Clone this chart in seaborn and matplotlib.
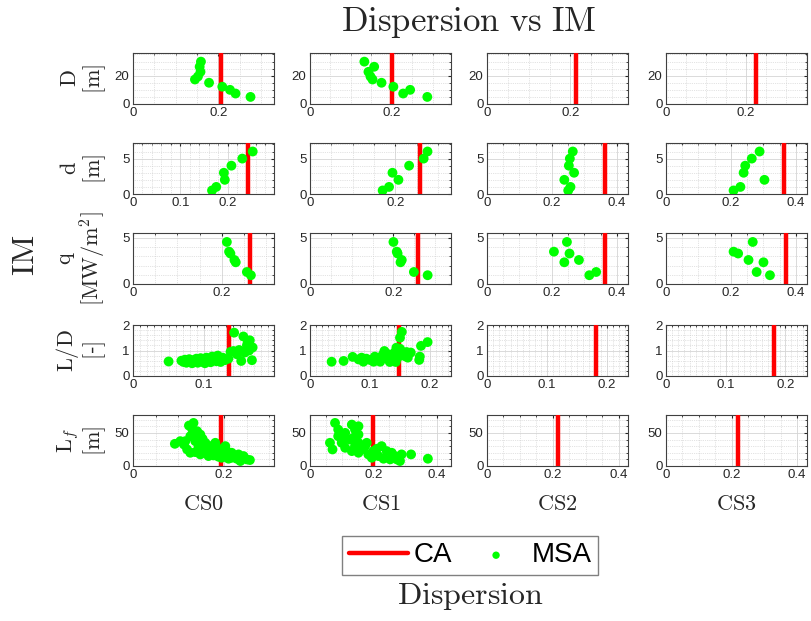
import numpy as np
import pandas as pd
import seaborn as sns
import matplotlib.pyplot as plt
from matplotlib.ticker import MultipleLocator, FuncFormatter

# ---- data ----
cases = ['CS0', 'CS1', 'CS2', 'CS3']

# CA dispersion (red lines), one per row / case
ca_D = [0.205, 0.200, 0.213, 0.225]
ca_d = [0.243, 0.257, 0.362, 0.362]
ca_q = [0.263, 0.258, 0.362, 0.368]
ca_LD = [0.135, 0.148, 0.182, 0.181]
ca_Lf = [0.193, 0.200, 0.214, 0.220]

# D [m]
D_vals = [29.9, 26.3, 22.7, 19.4, 17.3, 15.0, 12.2, 10.0, 7.4, 5.0]
D_cs0 = [0.159, 0.156, 0.158, 0.152, 0.145, 0.178, 0.209, 0.227, 0.240, 0.275]
D_cs1 = [0.133, 0.157, 0.143, 0.148, 0.153, 0.175, 0.204, 0.245, 0.228, 0.287]

# d [m]
d_vals = [6, 5, 4, 3, 2, 1, 0.5]
d_cs0 = [0.253, 0.231, 0.208, 0.192, 0.194, 0.176, 0.167]
d_cs1 = [0.275, 0.266, 0.232, 0.193, 0.207, 0.185, 0.170]
d_cs2 = [0.264, 0.255, 0.252, 0.268, 0.238, 0.257, 0.250]
d_cs3 = [0.288, 0.264, 0.244, 0.239, 0.303, 0.229, 0.208]

# q [MW/m2]
q_vals = [4.55, 3.5, 3.3, 2.6, 2.35, 1.3, 0.95]
q_cs0 = [0.211, 0.216, 0.219, 0.228, 0.231, 0.256, 0.265]
q_cs1 = [0.200, 0.208, 0.210, 0.220, 0.217, 0.249, 0.282]
q_cs2 = [0.246, 0.206, 0.254, 0.283, 0.238, 0.336, 0.315]
q_cs3 = [0.267, 0.208, 0.222, 0.254, 0.300, 0.279, 0.320]

# L/D [-]
LD_cs0_x = [0.050, 0.068, 0.071, 0.073, 0.075, 0.077, 0.079, 0.081, 0.083, 0.085,
            0.087, 0.089, 0.091, 0.093, 0.095, 0.097, 0.099, 0.101, 0.103, 0.105,
            0.107, 0.109, 0.111, 0.113, 0.115, 0.117, 0.119, 0.121, 0.123, 0.126,
            0.129, 0.134, 0.137, 0.141, 0.142, 0.146, 0.149, 0.152, 0.155, 0.157,
            0.160, 0.161, 0.164, 0.167, 0.168, 0.163]
LD_cs0_y = [0.57, 0.60, 0.55, 0.64, 0.52, 0.60, 0.66, 0.55, 0.50, 0.62,
            0.57, 0.68, 0.52, 0.62, 0.70, 0.56, 0.64, 0.50, 0.72, 0.60,
            0.66, 0.54, 0.76, 0.62, 0.70, 0.58, 0.80, 0.66, 0.55, 0.72,
            0.62, 0.68, 0.95, 0.98, 1.70, 0.85, 1.02, 0.59, 1.55, 0.92,
            1.20, 1.30, 1.40, 0.62, 1.12, 1.00]
LD_cs1_x = [0.036, 0.056, 0.071, 0.081, 0.086, 0.089, 0.094, 0.100, 0.106, 0.108,
            0.114, 0.117, 0.119, 0.122, 0.124, 0.128, 0.131, 0.133, 0.136, 0.141,
            0.143, 0.144, 0.146, 0.150, 0.150, 0.153, 0.156, 0.158, 0.161, 0.163,
            0.168, 0.182, 0.183, 0.185, 0.196]
LD_cs1_y = [0.56, 0.59, 0.75, 0.65, 0.72, 0.56, 0.68, 0.63, 0.56, 0.76,
            0.65, 0.56, 0.76, 0.85, 0.98, 0.68, 0.85, 0.55, 0.63, 0.92,
            0.55, 1.11, 0.72, 1.50, 1.07, 1.73, 0.92, 0.78, 0.94, 0.72,
            0.92, 0.63, 0.76, 1.18, 1.33]

# Lf [m]
Lf_cs0_x = [0.133, 0.123, 0.130, 0.141, 0.148, 0.153, 0.159, 0.170, 0.181, 0.185,
            0.203, 0.206, 0.217, 0.232, 0.243, 0.250, 0.257, 0.236, 0.228,
            0.092, 0.104, 0.112, 0.119, 0.126, 0.137, 0.148, 0.159, 0.166, 0.177,
            0.188, 0.195, 0.203, 0.210, 0.217,
            0.144, 0.155, 0.166, 0.174, 0.192, 0.195, 0.152, 0.137, 0.126, 0.141, 0.115]
Lf_cs0_y = [65, 61, 56, 52.5, 47.5, 41, 35, 30, 35, 27.5,
            30, 22.5, 20, 17.5, 15, 10, 9, 7.5, 11,
            33.5, 37.5, 32.5, 25, 20, 21, 17.5, 20, 15, 16,
            14, 12.5, 15, 11, 12.5,
            30, 25, 22.5, 26, 22.5, 17.5, 32.5, 37.5, 45, 42.5, 37.5]
Lf_cs1_x = [0.079, 0.063, 0.071, 0.089, 0.111, 0.132, 0.142, 0.153, 0.126, 0.100,
            0.111, 0.132, 0.153, 0.174, 0.184, 0.200, 0.216, 0.226, 0.242, 0.253,
            0.268, 0.284, 0.289, 0.319, 0.372, 0.153, 0.163, 0.142, 0.179, 0.211,
            0.195, 0.232, 0.258, 0.274, 0.111, 0.089, 0.153, 0.137]
Lf_cs1_y = [65, 35, 25, 45, 50, 62.5, 55, 47.5, 40, 35,
            27.5, 22.5, 20, 30, 17.5, 22.5, 15, 30, 22.5, 10,
            15, 7.5, 17.5, 17.5, 11, 35, 25, 30, 35, 26,
            12.5, 11, 20, 10, 40, 55, 60, 42.5]

# panel limits and ticks
row_labels = [r'$\mathrm{D}$' + '\n' + r'$\mathrm{[m]}$',
              r'$\mathrm{d}$' + '\n' + r'$\mathrm{[m]}$',
              r'$\mathrm{q}$' + '\n' + r'$\mathrm{[MW/m^2]}$',
              r'$\mathrm{L/D}$' + '\n' + r'$\mathrm{[}$-$\mathrm{]}$',
              r'$\mathrm{L}_f$' + '\n' + r'$\mathrm{[m]}$']
ylims = [36, 7.2, 5.52, 2.0, 77]
ymajor = [20, 5, 5, 1, 50]
yminor = [5, 1, 1, 0.2, 10]
xlims = [[0.33, 0.345, 0.338, 0.352],
         [0.298, 0.33, 0.434, 0.434],
         [0.317, 0.338, 0.434, 0.434],
         [0.198, 0.235, 0.235, 0.236],
         [0.31, 0.445, 0.428, 0.43]]
xmajor = [[0.2] * 4, [0.1, 0.2, 0.2, 0.2], [0.2] * 4, [0.1] * 4, [0.2] * 4]
xminor = [[0.05] * 4, [0.02, 0.05, 0.05, 0.05], [0.05] * 4, [0.01] * 4, [0.05] * 4]

ca_all = [ca_D, ca_d, ca_q, ca_LD, ca_Lf]
msa = [
    [(D_cs0, D_vals), (D_cs1, D_vals), None, None],
    [(d_cs0, d_vals), (d_cs1, d_vals), (d_cs2, d_vals), (d_cs3, d_vals)],
    [(q_cs0, q_vals), (q_cs1, q_vals), (q_cs2, q_vals), (q_cs3, q_vals)],
    [(LD_cs0_x, LD_cs0_y), (LD_cs1_x, LD_cs1_y), None, None],
    [(Lf_cs0_x, Lf_cs0_y), (Lf_cs1_x, Lf_cs1_y), None, None],
]

sns.set_style("white")
plt.rcParams['font.family'] = ['Liberation Sans', 'DejaVu Sans']
plt.rcParams['mathtext.fontset'] = 'cm'

GREEN = '#00ff00'
RED = '#ff0000'
W, H = 811, 621
col_x = [133, 310, 487, 666]
row_y = [53, 143, 233, 325, 415]
aw, ah = 141, 51

fig = plt.figure(figsize=(W / 100, H / 100), dpi=100)
fmt = FuncFormatter(lambda v, p: f'{v:g}')

for r in range(5):
    for c in range(4):
        ax = fig.add_axes([col_x[c] / W, 1 - (row_y[r] + ah) / H, aw / W, ah / H])
        ax.set_axisbelow(True)
        ax.axvline(ca_all[r][c], color=RED, lw=3.2, label='CA', zorder=3)
        if msa[r][c] is not None:
            xs, ys = msa[r][c]
            df = pd.DataFrame({'disp': xs, 'val': ys})
            sns.scatterplot(data=df, x='disp', y='val', ax=ax, color=GREEN, s=50,
                            edgecolor='none', linewidth=0, label='MSA', legend=False,
                            zorder=4)
        ax.set_xlim(0, xlims[r][c])
        ax.set_ylim(0, ylims[r])
        ax.xaxis.set_major_locator(MultipleLocator(xmajor[r][c]))
        ax.xaxis.set_minor_locator(MultipleLocator(xminor[r][c]))
        ax.yaxis.set_major_locator(MultipleLocator(ymajor[r]))
        ax.yaxis.set_minor_locator(MultipleLocator(yminor[r]))
        ax.xaxis.set_major_formatter(fmt)
        ax.yaxis.set_major_formatter(fmt)
        ax.grid(which='major', color='#d4d4d4', lw=0.6, ls='-')
        ax.grid(which='minor', color='#c8c8c8', lw=0.5, ls=':')
        ax.tick_params(which='both', direction='in', labelsize=9.5, colors='#262626',
                       pad=2.5, top=True, right=True)
        ax.tick_params(which='major', length=2.5)
        ax.tick_params(which='minor', length=1.2)
        for sp in ax.spines.values():
            sp.set_color('#404040')
            sp.set_linewidth(0.8)
        ax.set_xlabel('')
        ax.set_ylabel('')
        if c == 0:
            ax.set_ylabel(row_labels[r], fontsize=16, linespacing=1.0, color='#262626')
            ax.yaxis.set_label_coords(-0.18, 0.5)
        if r == 4:
            ax.set_xlabel(r'$\mathrm{' + cases[c] + '}$', fontsize=16, color='#262626')
            ax.xaxis.set_label_coords(0.5, -0.55)
        if r == 0 and c == 0:
            first_ax = ax

fig.text(469 / W, 1 - 22 / H, r'$\mathrm{Dispersion\ vs\ IM}$', fontsize=25,
         ha='center', va='center', color='#262626')
fig.text(26 / W, 1 - 255 / H, r'$\mathrm{IM}$', fontsize=23, rotation=90,
         ha='center', va='center', color='#262626')
fig.text(470 / W, 1 - 597 / H, r'$\mathrm{Dispersion}$', fontsize=23,
         ha='center', va='center', color='#262626')

handles, labels = first_ax.get_legend_handles_labels()
leg = fig.legend(handles, labels, loc='center', bbox_to_anchor=(470 / W, 1 - 555.5 / H),
                 ncol=2, fontsize=20, frameon=True, fancybox=False, framealpha=1,
                 edgecolor='#808080', handlelength=2.15, handletextpad=0.2,
                 columnspacing=0.5, borderpad=0.25, borderaxespad=0, markerscale=0.75,
                 labelcolor='black')
leg.get_frame().set_linewidth(1.0)

fig.savefig('out.png', dpi=100)
